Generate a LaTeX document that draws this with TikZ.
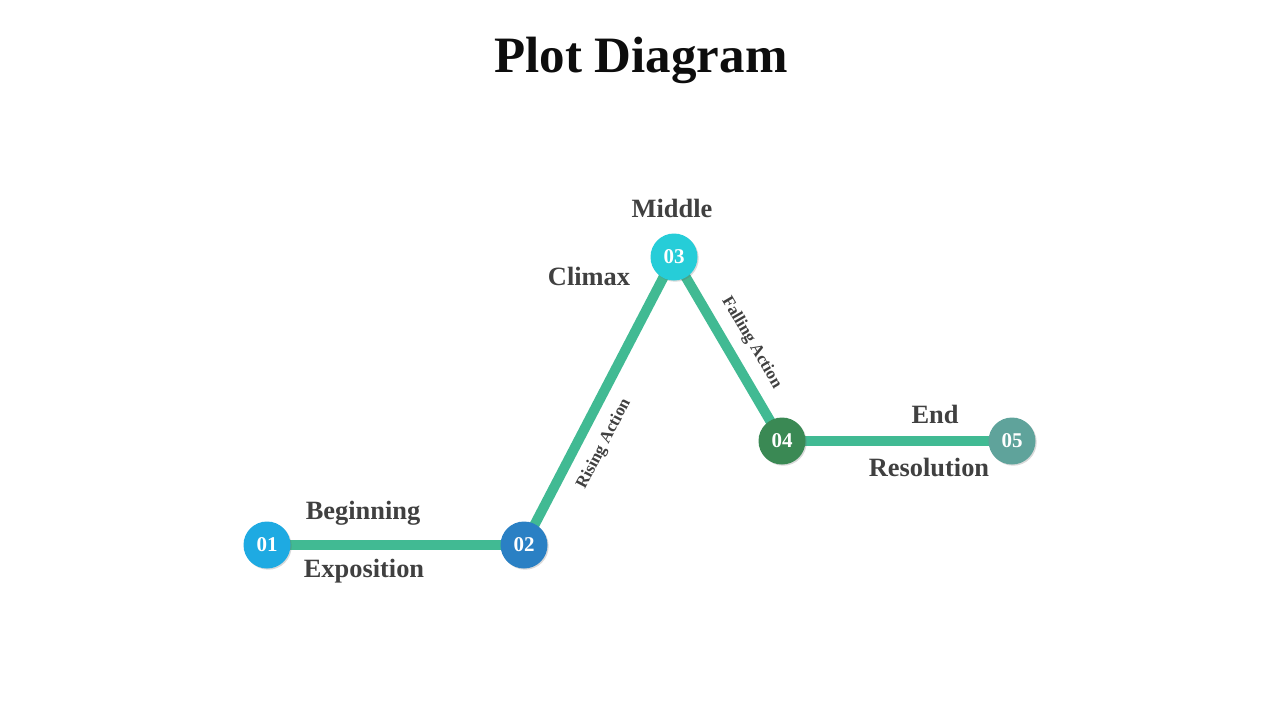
\documentclass[tikz,border=0pt]{standalone}
\usepackage{fontspec}
\setmainfont{Liberation Serif}
\usetikzlibrary{shadows}
\definecolor{linec}{HTML}{41BA93}
\definecolor{txt}{HTML}{404040}
\definecolor{cA}{HTML}{1EAAE2}
\definecolor{cB}{HTML}{2A80C4}
\definecolor{cC}{HTML}{26CDD8}
\definecolor{cD}{HTML}{3A8954}
\definecolor{cE}{HTML}{5FA39B}
\begin{document}
\begin{tikzpicture}[x=0.5pt,y=-0.5pt,
  dot/.style={circle,minimum size=23.5pt,inner sep=0pt,text=white,font=\bfseries\fontsize{10.5}{12}\selectfont,
    drop shadow={shadow xshift=0.6pt,shadow yshift=-0.6pt,opacity=0.25,fill=black!60}},
  lbl/.style={text=txt,font=\bfseries\fontsize{13.2}{15}\selectfont},
  slbl/.style={text=txt,font=\bfseries\fontsize{8.5}{10}\selectfont,sloped},
  conn/.style={draw=linec,line width=5pt}]
\useasboundingbox (0,0) rectangle (1280,720);
\node[font=\bfseries\fontsize{25.5}{30}\selectfont,text=black!95] (title) at (641,60) {Plot Diagram};
\coordinate (p1) at (267,545);
\coordinate (p2) at (524,545);
\coordinate (p3) at (674,257);
\coordinate (p4) at (782,441);
\coordinate (p5) at (1012,441);
\draw[conn] (p1) -- (p2);
\draw[conn] (p2) -- node[slbl,pos=0.39,below=2.5pt] (ra) {Rising Action} (p3);
\draw[conn] (p3) -- node[slbl,pos=0.53,above=2pt] (fa) {Falling Action} (p4);
\draw[conn] (p4) -- (p5);
\node[dot,fill=cA] (n1) at (p1) {01};
\node[dot,fill=cB] (n2) at (p2) {02};
\node[dot,fill=cC] (n3) at (p3) {03};
\node[dot,fill=cD] (n4) at (p4) {04};
\node[dot,fill=cE] (n5) at (p5) {05};
\node[lbl] (beg) at (363,513) {Beginning};
\node[lbl] (exp) at (364,571) {Exposition};
\node[lbl] (mid) at (672,208) {Middle};
\node[lbl] (cli) at (589,276) {Climax};
\node[lbl] (end) at (935,414) {End};
\node[lbl] (res) at (929,467) {Resolution};
\end{tikzpicture}
\end{document}
